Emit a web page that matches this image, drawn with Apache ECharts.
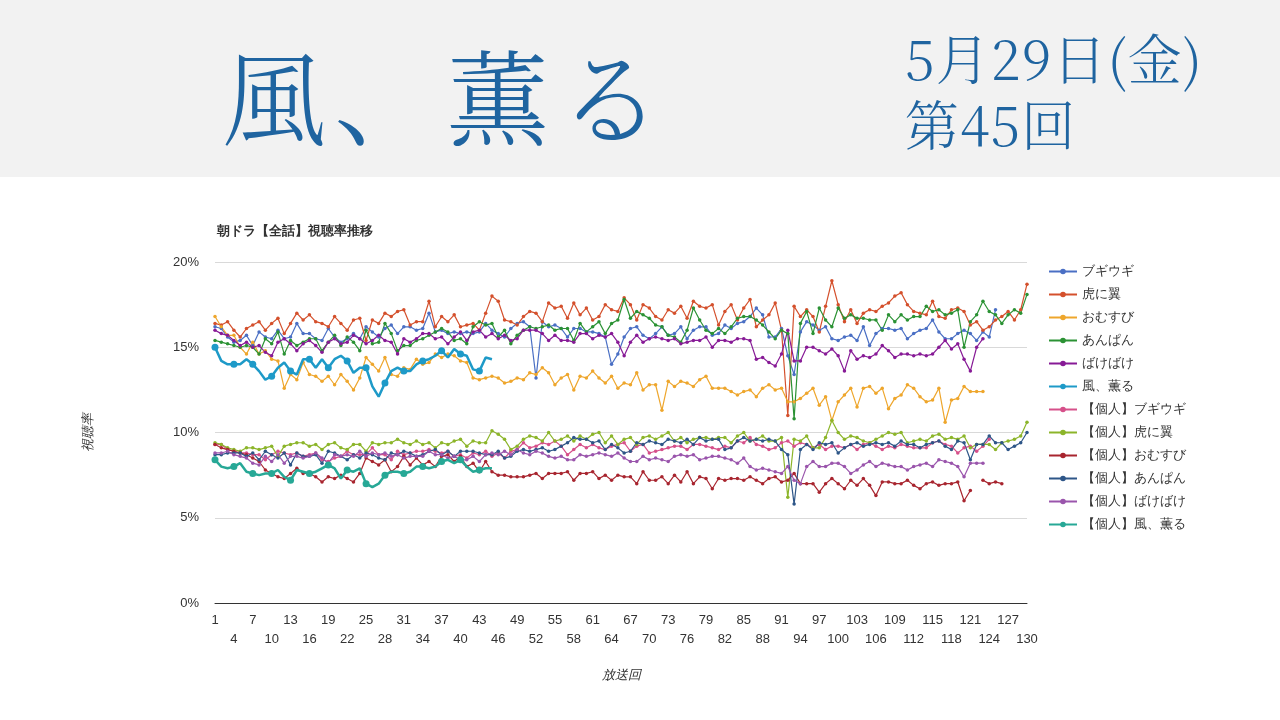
<!DOCTYPE html>
<html><head><meta charset="utf-8">
<script src="https://cdn.jsdelivr.net/npm/echarts@6/dist/echarts.min.js"></script>
<style>
body{margin:0;width:1280px;height:720px;background:#fff;overflow:hidden;font-family:"Noto Sans CJK JP",sans-serif}
#hdr{position:absolute;left:0;top:0;width:1280px;height:177px;background:#f2f2f2}
#t1{position:absolute;left:222px;top:18px;font-family:"Noto Serif CJK JP","Noto Sans CJK JP",serif;font-size:104px;color:#1f64a0;letter-spacing:8px;font-weight:300}
#t2{position:absolute;left:905px;top:24px;font-family:"Noto Serif CJK JP","Noto Sans CJK JP",serif;font-size:54px;line-height:66px;color:#1f64a0;font-weight:300;letter-spacing:1px}
#c{position:absolute;left:0;top:177px;width:1280px;height:543px}
</style></head><body>
<div id="hdr"><div id="t1">風、薫る</div><div id="t2">5月29日(金)<br>第45回</div></div>
<div id="c"></div>
<script>
const boogie=[16.2,16.1,15.6,15.3,15.4,15.7,15.1,15.9,15.6,15.5,16.0,15.5,15.6,16.4,15.8,15.8,15.5,15.4,16.1,15.6,15.3,15.5,15.8,15.5,16.2,15.9,15.6,16.1,16.3,15.8,16.2,16.2,16.0,16.1,17.0,15.9,16.0,15.8,15.9,15.8,15.9,15.8,15.9,16.4,16.0,15.8,15.6,16.1,16.4,16.5,16.2,13.2,16.5,16.2,16.3,16.1,15.6,16.1,16.1,15.9,15.9,15.8,15.6,14.0,14.6,15.6,16.1,16.2,15.7,15.5,15.8,16.2,15.7,15.8,16.2,15.5,16.0,16.2,16.2,15.7,15.8,16.3,16.1,16.4,16.5,16.8,17.3,16.9,15.6,15.6,16.1,14.5,13.4,15.9,16.5,16.3,16.0,16.2,15.5,15.4,15.6,15.7,15.4,16.2,15.1,15.8,16.1,16.1,16.0,16.1,15.5,15.8,16.0,16.1,16.6,15.9,15.5,15.5,15.8,16.0,15.8,15.4,15.9,15.6,17.2];
const tora=[16.4,16.3,16.5,16.0,15.6,16.1,16.3,16.5,16.0,16.4,16.7,15.8,16.4,17.0,16.6,16.9,16.5,16.4,16.2,16.8,16.4,16.0,16.6,16.7,15.4,16.6,16.4,17.0,16.8,17.1,17.2,16.3,16.5,16.5,17.7,16.2,16.8,16.5,16.9,16.2,16.3,16.4,16.0,17.0,18.0,17.7,16.6,16.5,16.3,16.8,17.1,17.0,16.5,17.6,17.3,17.4,16.7,17.6,16.9,17.3,16.6,16.8,17.5,17.2,17.1,17.9,17.5,16.6,17.5,17.3,16.8,16.6,17.2,17.0,17.4,16.7,17.7,17.4,17.3,17.5,16.3,17.1,17.5,16.6,17.3,17.8,16.2,16.6,16.9,17.6,16.0,11.0,17.4,16.8,17.2,16.8,15.9,17.4,18.9,17.5,16.5,17.2,16.4,17.0,17.2,17.1,17.4,17.6,18.0,18.2,17.5,17.1,17.0,16.9,17.7,16.8,16.7,17.2,17.3,17.1,16.3,16.5,16.0,16.2,16.6,16.8,17.1,16.6,17.2,18.7];
const omusubi=[16.8,16.2,15.7,15.7,15.0,14.6,15.3,14.6,14.8,14.3,14.2,12.6,13.4,13.1,14.1,13.4,13.3,13.0,13.3,12.8,13.4,13.0,12.5,13.2,14.4,14.0,13.6,14.4,13.4,13.3,13.8,13.7,14.3,14.0,14.1,14.6,14.4,14.6,14.5,14.2,14.1,13.2,13.1,13.2,13.3,13.2,12.9,13.0,13.2,13.1,13.5,13.4,13.8,13.5,12.8,13.2,13.4,12.5,13.3,13.2,13.6,13.2,12.9,13.3,12.6,12.9,12.8,13.5,12.5,12.8,12.8,11.3,13.0,12.7,13.0,12.9,12.7,13.1,13.3,12.6,12.6,12.6,12.4,12.2,12.4,12.5,12.1,12.6,12.8,12.5,12.6,11.8,11.8,12.0,12.3,12.6,11.6,12.1,10.7,11.8,12.2,12.6,11.5,12.6,12.7,12.3,12.6,11.4,12.0,12.2,12.8,12.6,12.1,11.8,11.9,12.6,10.6,11.9,12.0,12.7,12.4,12.4,12.4];
const anpan=[15.4,15.3,15.2,15.1,15.0,15.1,15.0,14.6,15.5,15.2,15.9,14.6,15.4,15.1,15.3,15.5,15.5,14.8,15.3,15.7,15.1,15.6,15.3,14.8,16.0,15.2,15.3,16.4,15.8,14.8,15.1,15.1,15.4,15.5,15.7,15.9,16.1,15.9,15.4,15.5,15.2,16.2,16.5,16.3,16.4,15.6,16.0,15.2,15.7,16.0,16.2,16.1,16.2,16.3,16.0,16.1,16.1,15.4,16.4,15.9,16.2,16.5,15.8,16.4,16.6,17.8,16.7,17.1,16.9,16.7,16.3,16.2,15.7,15.6,15.3,16.0,17.3,16.6,16.0,15.8,16.1,15.8,16.2,16.7,16.8,16.8,16.6,16.3,15.9,15.5,16.0,15.8,10.8,16.4,17.1,15.8,17.3,16.6,16.2,17.3,16.7,16.9,16.7,16.7,16.6,16.6,16.0,16.9,16.5,16.9,16.6,16.8,16.8,17.4,17.1,17.2,16.9,17.0,17.2,15.0,16.5,16.9,17.7,17.1,16.9,16.4,16.9,17.2,17.0,18.1];
const bake=[16.0,15.8,15.7,15.4,15.1,15.3,15.0,15.1,14.7,14.5,15.3,15.5,15.2,14.8,15.2,15.4,15.1,14.7,15.3,15.5,15.2,15.3,15.7,15.5,15.2,15.4,15.7,15.4,15.3,14.6,15.5,15.3,15.5,15.8,15.8,15.5,15.6,15.2,15.6,15.9,15.4,15.9,16.0,15.6,15.8,15.5,15.7,15.4,15.5,16.0,16.0,16.0,15.8,15.4,15.7,15.4,15.4,15.3,15.8,15.8,15.5,15.7,15.6,15.8,15.3,14.5,15.3,15.7,15.3,15.5,15.6,15.5,15.4,15.5,15.2,15.3,15.4,15.4,15.6,15.0,15.4,15.4,15.3,15.5,15.5,15.4,14.3,14.4,14.1,13.9,14.6,16.0,14.2,14.2,15.0,15.0,14.8,14.6,14.9,14.5,13.6,14.8,14.3,14.5,14.4,14.6,15.1,14.8,14.4,14.6,14.6,14.5,14.6,14.5,14.6,15.0,15.4,14.9,15.2,14.3,13.6,15.0,15.5];
const kaoru=[15.0,14.2,14.0,14.0,14.0,14.3,14.0,13.6,13.1,13.3,13.8,14.1,13.6,13.4,14.3,14.3,13.8,14.3,13.8,14.3,14.5,14.2,13.5,13.8,13.8,12.7,12.1,12.9,13.6,13.8,13.6,13.6,14.0,14.2,14.3,14.5,14.8,14.4,14.9,14.6,14.5,13.7,13.6,14.4,14.3];
const pBoogie=[9.3,9.3,9.0,8.9,8.8,8.8,8.7,8.7,8.4,8.7,8.9,8.8,8.7,8.8,8.6,8.7,8.8,8.4,8.3,8.5,8.6,8.9,8.7,8.7,8.7,9.1,8.7,8.7,8.4,8.9,8.7,8.8,8.9,8.9,9.0,8.9,8.8,8.9,8.6,8.7,8.5,8.8,8.7,8.9,8.6,8.8,8.5,8.9,9.0,9.4,9.1,9.2,9.4,9.3,9.5,9.2,8.7,9.0,9.3,9.1,9.3,9.1,9.0,9.2,9.3,9.4,8.9,9.2,9.3,8.8,8.9,9.0,9.1,9.2,9.2,9.0,9.3,9.3,9.2,9.1,9.0,9.2,9.1,9.5,9.4,9.7,9.3,9.2,9.0,9.1,9.4,9.5,9.2,9.4,9.3,9.1,9.3,9.0,9.2,9.2,9.1,9.3,9.0,9.3,9.4,9.2,9.0,9.2,9.1,9.3,9.2,9.1,9.1,9.1,9.4,9.5,9.3,9.2,8.8,9.1,9.2,8.9,9.2,9.6];
const pTora=[9.4,9.3,9.1,9.0,8.9,9.1,9.1,9.0,9.1,9.2,8.6,9.2,9.3,9.4,9.4,9.2,9.3,9.0,9.3,9.4,9.1,9.0,9.3,9.3,8.9,9.4,9.3,9.4,9.4,9.6,9.4,9.3,9.5,9.3,9.4,9.1,9.4,9.3,9.5,9.6,9.2,9.5,9.4,9.4,10.1,9.9,9.6,9.0,9.2,9.6,9.8,9.7,9.5,10.0,9.5,9.6,9.8,9.5,9.8,9.6,9.9,10.0,9.4,9.8,9.3,9.6,9.7,9.3,9.7,9.8,9.6,9.8,10.0,9.5,9.7,9.4,9.6,9.7,9.7,9.6,9.7,9.7,9.4,9.8,10.0,9.5,9.6,9.8,9.5,9.5,9.7,6.2,9.6,9.5,9.8,9.1,9.1,9.7,10.7,10.0,9.6,9.8,9.7,9.5,9.4,9.6,9.8,10.0,9.9,10.0,9.4,9.5,9.6,9.5,9.8,9.9,9.6,9.7,9.6,9.8,9.1,9.3,9.3,9.3,9.0,9.4,9.5,9.6,9.8,10.6];
const pOmusubi=[9.3,9.1,9.0,8.9,8.8,8.7,8.5,8.3,7.8,7.6,7.4,7.3,7.6,7.9,7.6,7.6,7.4,7.1,7.4,7.3,7.5,7.3,7.1,7.6,8.5,8.3,8.1,8.4,7.7,8.0,8.6,8.1,8.5,8.1,8.3,8.0,8.6,8.7,8.3,8.6,8.0,8.2,7.7,8.3,7.7,7.5,7.5,7.4,7.4,7.4,7.5,7.6,7.3,7.6,7.6,7.6,7.7,7.2,7.6,7.6,7.7,7.3,7.5,7.2,7.5,7.4,7.4,7.0,7.7,7.2,7.2,7.4,7.0,7.5,7.1,7.7,7.0,7.4,7.3,6.7,7.3,7.2,7.3,7.3,7.2,7.4,7.2,7.0,7.3,7.4,7.1,7.2,7.6,7.0,7.0,7.0,6.5,7.0,7.3,7.0,6.7,7.2,6.9,7.3,6.9,6.3,7.1,7.1,7.0,7.0,7.2,6.9,6.7,7.0,7.1,6.9,7.0,7.0,7.1,6.0,6.6,null,7.2,7.0,7.1,7.0];
const pAnpan=[8.7,8.7,8.8,8.8,8.8,8.6,8.8,8.4,8.9,8.7,8.5,8.8,8.1,8.8,8.6,8.6,8.7,8.2,8.9,8.8,8.6,8.4,8.7,8.5,8.8,8.7,8.5,8.4,8.8,8.7,8.9,8.8,8.6,8.7,8.9,9.0,8.7,8.9,8.6,8.9,8.9,8.9,8.8,8.7,8.7,8.9,8.5,8.6,8.9,9.0,8.9,9.0,9.1,8.9,9.0,9.2,9.4,9.7,9.6,9.6,9.4,9.5,9.0,9.3,9.1,8.8,8.9,9.4,9.3,9.5,9.4,9.3,9.6,9.5,9.4,9.6,9.3,9.7,9.5,9.6,9.6,9.0,9.1,9.5,9.7,9.5,9.6,9.5,9.6,9.5,9.0,8.7,5.8,9.0,9.3,9.0,9.4,9.3,9.4,8.8,9.1,9.3,9.4,9.2,9.3,9.4,9.3,9.4,9.2,9.5,9.3,9.3,9.1,9.3,9.4,9.5,9.2,9.0,9.5,9.4,8.4,9.3,9.3,9.8,9.4,9.4,9.0,9.2,9.4,10.0];
const pBake=[8.8,8.8,8.9,8.7,8.6,8.5,8.2,8.1,8.6,8.3,8.7,8.2,8.6,8.6,8.5,8.6,8.8,8.5,8.2,8.7,8.6,8.7,8.6,8.9,8.6,8.8,8.7,8.8,8.6,8.7,8.5,8.6,8.6,8.6,8.9,8.7,8.7,8.5,8.6,8.4,8.4,8.6,8.3,8.7,8.8,8.7,8.9,8.7,9.0,8.8,8.7,8.9,8.8,8.6,8.5,8.6,8.4,8.4,8.7,8.6,8.7,8.8,8.7,8.6,8.8,8.5,8.3,8.3,8.6,8.4,8.5,8.4,8.3,8.6,8.7,8.6,8.7,8.4,8.5,8.6,8.6,8.5,8.4,8.2,8.5,8.0,7.8,7.9,7.8,7.7,7.6,8.0,7.2,7.0,8.0,8.3,8.0,8.0,8.2,8.2,8.0,7.6,7.8,8.1,8.3,8.0,8.2,8.1,8.0,8.0,7.8,8.0,8.1,8.2,8.0,8.4,8.3,8.2,8.0,7.4,8.2,8.2,8.2];
const pKaoru=[8.4,8.0,7.9,8.0,8.2,7.7,7.6,7.5,7.6,7.6,7.8,7.4,7.2,7.8,7.7,7.6,7.7,7.9,8.1,7.9,7.3,7.8,7.7,7.9,7.0,6.8,7.0,7.5,7.7,7.7,7.6,7.7,8.0,8.0,7.9,8.0,8.3,8.4,8.2,8.4,8.0,7.7,7.8,7.9,7.9];
const names=['ブギウギ','虎に翼','おむすび','あんぱん','ばけばけ','風、薫る','【個人】ブギウギ','【個人】虎に翼','【個人】おむすび','【個人】あんぱん','【個人】ばけばけ','【個人】風、薫る'];
const datas=[boogie,tora,omusubi,anpan,bake,kaoru,pBoogie,pTora,pOmusubi,pAnpan,pBake,pKaoru];
const colors=['#4a6fc4','#d4502c','#eea62c','#2b9234','#871a96','#1e9ac8','#d6508a','#8cb52a','#a8252f','#2e5688','#9a55ac','#27a896'];
const cats=[];for(let i=1;i<=130;i++)cats.push(String(i));
const lbl={fontSize:13,color:'#333',lineHeight:19,hideOverlap:false};
const fmt=(v,i)=>((i/3)%2===1?'\n'+v:v);
const ch=echarts.init(document.getElementById('c'));
ch.setOption({
 animation:false,
 title:{text:'朝ドラ【全話】視聴率推移',left:212,top:43,textStyle:{fontSize:13,fontWeight:'bold',color:'#333'}},
 legend:{orient:'vertical',left:1043,top:83,itemGap:10,itemWidth:28,itemHeight:7,textStyle:{fontSize:13,color:'#333'},data:names},
 grid:{left:215,right:253,top:85,bottom:117,containLabel:false},
 xAxis:[{type:'category',boundaryGap:false,data:cats,name:'放送回',nameLocation:'middle',nameGap:66,nameTextStyle:{fontStyle:'italic',fontSize:13,color:'#333'},
  axisLine:{lineStyle:{color:'#333'}},axisTick:{show:false},
  axisLabel:Object.assign({interval:(i)=>i%3===0,formatter:fmt},lbl)},
  {type:'category',position:'bottom',boundaryGap:false,data:cats,axisLine:{show:false},axisTick:{show:false},splitLine:{show:false},
  axisLabel:Object.assign({interval:(i)=>i===129,showMinLabel:false,showMaxLabel:true,formatter:(v)=>'\n'+v},lbl)}],
 yAxis:{type:'value',min:0,max:20,interval:5,name:'視聴率',nameLocation:'middle',nameGap:120,nameTextStyle:{fontStyle:'italic',fontSize:13,color:'#333'},
  axisLabel:{formatter:'{value}%',fontSize:13,color:'#333',margin:16},splitLine:{lineStyle:{color:'#d9d9d9'}},axisLine:{show:false},axisTick:{show:false}},
 series:names.map((n,k)=>({name:n,type:'line',data:datas[k],color:colors[k],symbol:'circle',
  symbolSize:(k===5||k===11)?7:3.5,lineStyle:{width:(k===5||k===11)?2.5:1.2},connectNulls:false,z:(k===5||k===11)?5:2}))
});
</script></body></html>
